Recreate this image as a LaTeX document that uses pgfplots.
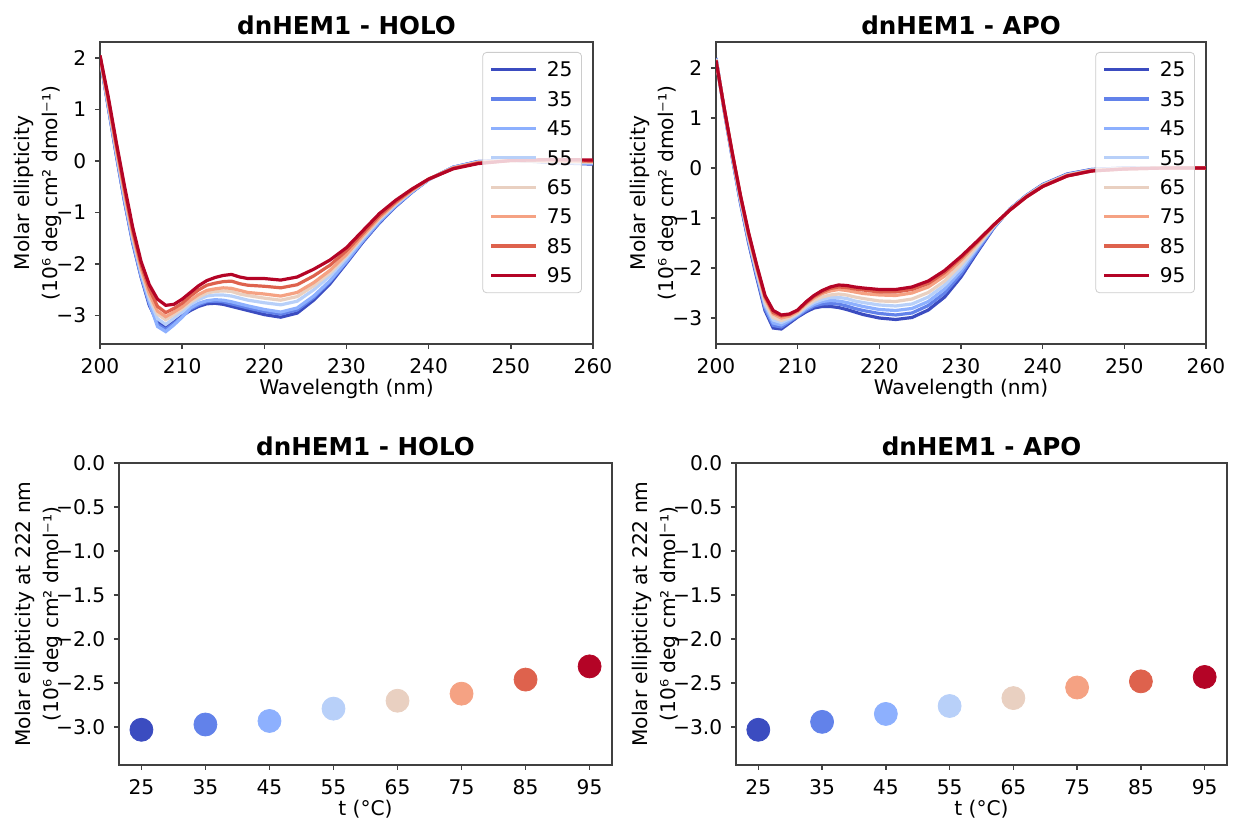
\documentclass[border=0pt]{standalone}
\usepackage{pgfplots}
\usepackage{pgfplotstable}
\pgfplotsset{compat=1.18}
\usepackage{fontspec}
\setmainfont{DejaVu Sans}

\newcommand\lbl{\fontsize{10.1}{13.8}\selectfont}
\newcommand\ttl{\fontsize{12.3}{15}\selectfont\bfseries}

% coolwarm samples for 25 ... 95 degC
\definecolor{c25}{RGB}{59,76,192}
\definecolor{c35}{RGB}{98,130,234}
\definecolor{c45}{RGB}{141,176,254}
\definecolor{c55}{RGB}{184,208,249}
\definecolor{c65}{RGB}{233,208,193}
\definecolor{c75}{RGB}{245,162,131}
\definecolor{c85}{RGB}{222,98,77}
\definecolor{c95}{RGB}{180,4,38}

% CD spectra, holo protein (10^6 deg cm2 dmol-1)
\pgfplotstableread{
wl  c25   c35   c45   c55   c65   c75   c85   c95
200 2.00  2.00  2.01  2.02  2.02  2.03  2.04  2.05
201 1.05  1.07  1.08  1.12  1.14  1.16  1.21  1.25
202 0.10  0.12  0.14  0.18  0.22  0.24  0.30  0.35
203 -0.80 -0.78 -0.76 -0.70 -0.66 -0.63 -0.56 -0.50
204 -1.60 -1.58 -1.56 -1.50 -1.46 -1.43 -1.36 -1.30
205 -2.25 -2.23 -2.21 -2.15 -2.11 -2.08 -2.01 -1.95
206 -2.80 -2.77 -2.74 -2.67 -2.62 -2.57 -2.48 -2.40
207 -3.12 -3.17 -3.21 -3.06 -2.97 -2.91 -2.82 -2.68
208 -3.22 -3.27 -3.31 -3.17 -3.08 -3.02 -2.94 -2.80
209 -3.12 -3.15 -3.18 -3.05 -2.98 -2.93 -2.86 -2.78
210 -3.00 -3.02 -3.03 -2.93 -2.87 -2.83 -2.76 -2.68
211 -2.90 -2.87 -2.85 -2.78 -2.74 -2.70 -2.62 -2.55
212 -2.82 -2.79 -2.76 -2.69 -2.64 -2.59 -2.50 -2.42
213 -2.77 -2.73 -2.71 -2.62 -2.56 -2.51 -2.41 -2.32
214 -2.76 -2.72 -2.69 -2.60 -2.53 -2.48 -2.37 -2.26
215 -2.78 -2.73 -2.70 -2.60 -2.52 -2.46 -2.34 -2.22
216 -2.82 -2.77 -2.73 -2.62 -2.53 -2.47 -2.33 -2.20
217 -2.86 -2.81 -2.77 -2.66 -2.58 -2.51 -2.38 -2.25
218 -2.90 -2.85 -2.81 -2.70 -2.61 -2.55 -2.41 -2.28
220 -2.98 -2.92 -2.88 -2.75 -2.66 -2.58 -2.43 -2.28
222 -3.03 -2.97 -2.93 -2.79 -2.70 -2.62 -2.46 -2.31
224 -2.95 -2.89 -2.85 -2.72 -2.63 -2.55 -2.40 -2.25
226 -2.70 -2.65 -2.62 -2.50 -2.42 -2.36 -2.23 -2.10
228 -2.38 -2.34 -2.32 -2.23 -2.17 -2.12 -2.02 -1.92
230 -1.98 -1.96 -1.94 -1.88 -1.84 -1.81 -1.74 -1.68
232 -1.57 -1.55 -1.54 -1.50 -1.47 -1.44 -1.40 -1.35
234 -1.20 -1.19 -1.17 -1.14 -1.12 -1.10 -1.06 -1.02
236 -0.88 -0.87 -0.86 -0.84 -0.82 -0.81 -0.79 -0.76
238 -0.60 -0.60 -0.59 -0.58 -0.57 -0.57 -0.55 -0.54
240 -0.36 -0.36 -0.36 -0.36 -0.35 -0.35 -0.35 -0.35
243 -0.12 -0.12 -0.12 -0.13 -0.13 -0.14 -0.14 -0.15
246 -0.01 -0.01 -0.02 -0.02 -0.03 -0.03 -0.04 -0.05
250 0.02  0.02  0.02  0.01  0.01  0.01  0.01  0.01
255 -0.03 -0.02 -0.02 -0.01 0.00  0.00  0.02  0.03
260 -0.06 -0.05 -0.05 -0.03 -0.02 -0.01 0.00  0.02
}\holo

% CD spectra, apo protein
\pgfplotstableread{
wl  c25   c35   c45   c55   c65   c75   c85   c95
200 2.20  2.19  2.19  2.18  2.17  2.16  2.15  2.15
201 1.15  1.16  1.17  1.17  1.18  1.19  1.20  1.20
202 0.20  0.22  0.23  0.25  0.26  0.28  0.29  0.30
203 -0.70 -0.68 -0.66 -0.63 -0.61 -0.58 -0.56 -0.55
204 -1.50 -1.47 -1.44 -1.41 -1.38 -1.34 -1.32 -1.30
205 -2.20 -2.16 -2.13 -2.09 -2.05 -2.00 -1.97 -1.95
206 -2.85 -2.81 -2.76 -2.72 -2.67 -2.61 -2.57 -2.55
207 -3.20 -3.15 -3.10 -3.04 -2.99 -2.92 -2.89 -2.85
208 -3.22 -3.18 -3.14 -3.09 -3.05 -3.00 -2.96 -2.94
209 -3.10 -3.07 -3.05 -3.02 -2.99 -2.96 -2.93 -2.92
210 -2.98 -2.96 -2.94 -2.92 -2.90 -2.87 -2.85 -2.84
211 -2.88 -2.85 -2.82 -2.79 -2.76 -2.72 -2.70 -2.68
212 -2.80 -2.76 -2.73 -2.69 -2.65 -2.60 -2.57 -2.55
213 -2.77 -2.72 -2.67 -2.63 -2.58 -2.51 -2.48 -2.45
214 -2.77 -2.71 -2.65 -2.59 -2.54 -2.46 -2.41 -2.38
215 -2.79 -2.72 -2.66 -2.59 -2.52 -2.43 -2.38 -2.34
216 -2.83 -2.76 -2.69 -2.61 -2.54 -2.45 -2.39 -2.35
217 -2.88 -2.81 -2.73 -2.66 -2.58 -2.48 -2.42 -2.38
218 -2.93 -2.85 -2.77 -2.69 -2.61 -2.51 -2.44 -2.40
220 -3.00 -2.91 -2.83 -2.74 -2.66 -2.54 -2.48 -2.43
222 -3.03 -2.94 -2.85 -2.76 -2.67 -2.55 -2.48 -2.43
224 -2.99 -2.90 -2.81 -2.72 -2.62 -2.50 -2.43 -2.38
226 -2.84 -2.75 -2.67 -2.58 -2.49 -2.38 -2.31 -2.26
228 -2.58 -2.50 -2.42 -2.34 -2.26 -2.16 -2.09 -2.05
230 -2.18 -2.12 -2.06 -2.00 -1.93 -1.85 -1.80 -1.77
232 -1.68 -1.65 -1.61 -1.58 -1.55 -1.50 -1.48 -1.46
234 -1.20 -1.19 -1.18 -1.17 -1.16 -1.15 -1.14 -1.14
236 -0.82 -0.82 -0.83 -0.83 -0.83 -0.84 -0.84 -0.84
238 -0.55 -0.55 -0.56 -0.56 -0.57 -0.57 -0.58 -0.58
240 -0.33 -0.34 -0.34 -0.35 -0.35 -0.36 -0.37 -0.37
243 -0.12 -0.13 -0.13 -0.14 -0.14 -0.15 -0.16 -0.16
246 -0.03 -0.03 -0.04 -0.04 -0.05 -0.05 -0.06 -0.06
250 0.00  0.00  -0.01 -0.01 -0.01 -0.02 -0.02 -0.02
255 0.00  0.00  0.00  0.00  0.00  0.00  0.00  0.00
260 0.00  0.00  0.00  0.00  0.00  0.00  0.00  0.00
}\apo

\pgfplotsset{
  panel/.style={
    scale only axis,
    anchor=south west,
    axis line style={black!75, line width=0.7pt},
    tick style={black!75, line width=0.7pt},
    tick align=outside,
    major tick length=2.5pt,
    xtick pos=lower, ytick pos=left,
    ticklabel style={font=\lbl},
    xticklabel style={inner sep=0pt, text height=7.3pt, text depth=0pt, anchor=north, yshift=-5pt},
    yticklabel style={inner sep=0pt, anchor=east, xshift=-4.2pt},
    every axis title shift=0pt,
    title style={font=\ttl, inner sep=0pt, text depth=0pt, anchor=base, at={(0.5,1)}, yshift=3.5pt},
    label style={font=\lbl},
    xlabel style={at={(ticklabel cs:0.5,3pt)}, anchor=north, inner sep=0pt, text height=7.3pt},
    ylabel style={anchor=south, inner sep=0pt, align=center},
  },
  spectrum/.style={
    panel,
    xmin=200, xmax=260,
    xtick={200,210,220,230,240,250,260},
    xticklabels={200,210,220,230,240,250,260},
    ytick={-3,-2,-1,0,1,2},
    yticklabels={−3,−2,−1,0,1,2},
    xlabel={Wavelength (nm)},
    ylabel={Molar ellipticity\\(10⁶ deg cm² dmol⁻¹)},
    ylabel style={at={([xshift=-19pt]axis description cs:0,0.5)}},
    legend cell align=left,
    legend style={at={(1,1)}, xshift=-5.5pt, yshift=-5pt, anchor=north east,
      draw=black!20, rounded corners=2pt, fill=white, fill opacity=0.8,
      text opacity=1, draw opacity=1, inner xsep=3.5pt, inner ysep=4pt,
      row sep=5.4pt, font=\lbl,
      nodes={inner sep=1pt, text height=7.3pt, text depth=0pt}},
    legend image code/.code={\draw[##1] (0pt,0pt) -- (22.5pt,0pt); \path (26pt,0pt);},
    every axis plot/.append style={line width=1.6pt, no markers},
  },
  melt/.style={
    panel,
    xmin=21.5, xmax=98.5, ymin=-3.43, ymax=0,
    xtick={25,35,45,55,65,75,85,95},
    xticklabels={25,35,45,55,65,75,85,95},
    ytick={-3,-2.5,-2,-1.5,-1,-0.5,0},
    yticklabels={−3.0,−2.5,−2.0,−1.5,−1.0,−0.5,0.0},
    xlabel={t (°C)},
    ylabel={Molar ellipticity at 222 nm\\(10⁶ deg cm² dmol⁻¹)},
    ylabel style={at={([xshift=-28pt]axis description cs:0,0.5)}},
    every axis plot/.append style={only marks, mark=*, mark size=5.75pt},
  },
}

\begin{document}
\begin{tikzpicture}
\useasboundingbox (0pt,0pt) rectangle (616.5pt,409.5pt);

% spectra, holo
\begin{axis}[spectrum, at={(50pt,237.5pt)}, width=246.5pt, height=151pt,
  ymin=-3.55, ymax=2.31, title={dnHEM1 - HOLO}]
\addplot[c25] table[x=wl,y=c25]{\holo}; \addlegendentry{25}
\addplot[c35] table[x=wl,y=c35]{\holo}; \addlegendentry{35}
\addplot[c45] table[x=wl,y=c45]{\holo}; \addlegendentry{45}
\addplot[c55] table[x=wl,y=c55]{\holo}; \addlegendentry{55}
\addplot[c65] table[x=wl,y=c65]{\holo}; \addlegendentry{65}
\addplot[c75] table[x=wl,y=c75]{\holo}; \addlegendentry{75}
\addplot[c85] table[x=wl,y=c85]{\holo}; \addlegendentry{85}
\addplot[c95] table[x=wl,y=c95]{\holo}; \addlegendentry{95}
\end{axis}

% spectra, apo
\begin{axis}[spectrum, at={(358pt,237.5pt)}, width=245pt, height=151pt,
  ymin=-3.52, ymax=2.52, title={dnHEM1 - APO}]
\addplot[c25] table[x=wl,y=c25]{\apo}; \addlegendentry{25}
\addplot[c35] table[x=wl,y=c35]{\apo}; \addlegendentry{35}
\addplot[c45] table[x=wl,y=c45]{\apo}; \addlegendentry{45}
\addplot[c55] table[x=wl,y=c55]{\apo}; \addlegendentry{55}
\addplot[c65] table[x=wl,y=c65]{\apo}; \addlegendentry{65}
\addplot[c75] table[x=wl,y=c75]{\apo}; \addlegendentry{75}
\addplot[c85] table[x=wl,y=c85]{\apo}; \addlegendentry{85}
\addplot[c95] table[x=wl,y=c95]{\apo}; \addlegendentry{95}
\end{axis}

% ellipticity at 222 nm, holo
\begin{axis}[melt, at={(59.5pt,27pt)}, width=246.5pt, height=151pt,
  title={dnHEM1 - HOLO}]
\addplot[c25] coordinates {(25,-3.03)};
\addplot[c35] coordinates {(35,-2.97)};
\addplot[c45] coordinates {(45,-2.93)};
\addplot[c55] coordinates {(55,-2.79)};
\addplot[c65] coordinates {(65,-2.70)};
\addplot[c75] coordinates {(75,-2.62)};
\addplot[c85] coordinates {(85,-2.46)};
\addplot[c95] coordinates {(95,-2.31)};
\end{axis}

% ellipticity at 222 nm, apo
\begin{axis}[melt, at={(368pt,27pt)}, width=245.5pt, height=151pt,
  title={dnHEM1 - APO}]
\addplot[c25] coordinates {(25,-3.03)};
\addplot[c35] coordinates {(35,-2.94)};
\addplot[c45] coordinates {(45,-2.85)};
\addplot[c55] coordinates {(55,-2.76)};
\addplot[c65] coordinates {(65,-2.67)};
\addplot[c75] coordinates {(75,-2.55)};
\addplot[c85] coordinates {(85,-2.48)};
\addplot[c95] coordinates {(95,-2.43)};
\end{axis}
\end{tikzpicture}
\end{document}
